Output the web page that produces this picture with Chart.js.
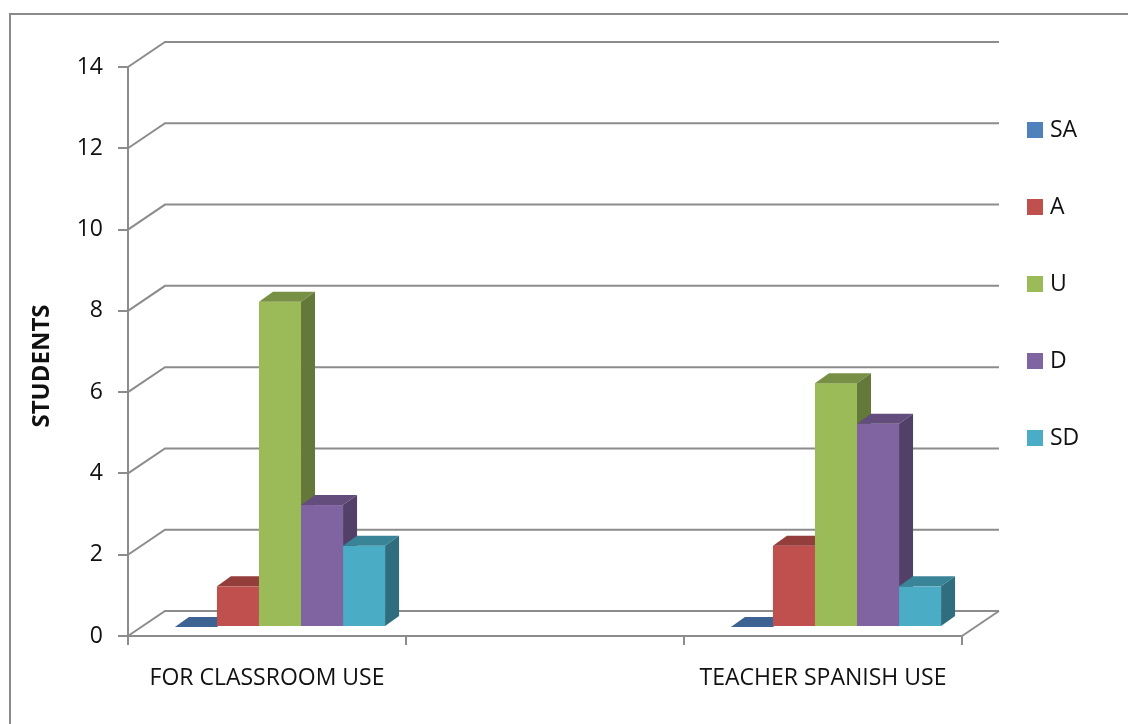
<!DOCTYPE html>
<html>
<head>
<meta charset="utf-8">
<script src="https://cdn.jsdelivr.net/npm/chart.js@4/dist/chart.umd.min.js"></script>
<style>
  html, body { margin: 0; padding: 0; background: #fff; }
  #wrap { position: relative; width: 1128px; height: 724px; overflow: hidden; }
  #frame { position: absolute; left: 9px; top: 13px; width: 1300px; height: 900px;
           border-left: 2px solid #8a8a8a; border-top: 2px solid #8a8a8a; }
  canvas { position: absolute; left: 0; top: 0; }
</style>
</head>
<body>
<div id="wrap">
  <div id="frame"></div>
  <canvas id="chart" width="1128" height="724"></canvas>
</div>
<script>
// Survey answers per category (number of students)
const categories = ['FOR CLASSROOM USE', '', 'TEACHER SPANISH USE'];
const seriesNames = ['SA', 'A', 'U', 'D', 'SD'];
const saValues = [0, null, 0];
const aValues  = [1, null, 2];
const uValues  = [8, null, 6];
const dValues  = [3, null, 5];
const sdValues = [2, null, 1];
const yTicks = [0, 2, 4, 6, 8, 10, 12, 14];
const yTitle = 'STUDENTS';

const seriesColors = ['#4F81BD', '#C0504D', '#9BBB59', '#8064A2', '#4BACC6'];
const GRID = '#8c8c8c';
const FONT = "'Open Sans', sans-serif";
const TEXT = '#111';

// oblique projection offsets
const WALL = { dx: 37, dy: -25 };      // depth of the floor / back wall
const BAR_OFF = { dx: 13, dy: -9 };    // bars sit a little behind the front edge
const BAR_DEEP = { dx: 14, dy: -10 };  // depth of each column

function shade(hex, f) {
  const n = parseInt(hex.slice(1), 16);
  const r = Math.round(((n >> 16) & 255) * f);
  const g = Math.round(((n >> 8) & 255) * f);
  const b = Math.round((n & 255) * f);
  return `rgb(${r},${g},${b})`;
}

const columns3d = {
  id: 'columns3d',
  beforeDatasetsDraw(chart) {
    const { ctx, chartArea: a, scales: { y } } = chart;
    ctx.save();
    ctx.strokeStyle = GRID;
    ctx.lineWidth = 2;
    ctx.lineJoin = 'miter';
    // back wall gridlines with their diagonal connectors to the value axis
    y.ticks.forEach(t => {
      const py = y.getPixelForValue(t.value);
      ctx.beginPath();
      ctx.moveTo(a.left, py);
      ctx.lineTo(a.left + WALL.dx, py + WALL.dy);
      ctx.lineTo(a.right + WALL.dx, py + WALL.dy);
      ctx.stroke();
    });
    // right edge of the floor
    const p0 = y.getPixelForValue(0);
    ctx.beginPath();
    ctx.moveTo(a.right, p0);
    ctx.lineTo(a.right + WALL.dx, p0 + WALL.dy);
    ctx.stroke();
    ctx.restore();
  },
  beforeDatasetDraw() {
    return false; // columns are painted as boxes below
  },
  afterDatasetsDraw(chart) {
    const { ctx } = chart;
    const sets = chart.data.datasets;
    ctx.save();
    for (let i = 0; i < chart.data.labels.length; i++) {
      for (let d = 0; d < sets.length; d++) {
        const v = sets[d].data[i];
        const el = chart.getDatasetMeta(d).data[i];
        if (v == null || !el) continue;
        const { x, y, base, width } = el.getProps(['x', 'y', 'base', 'width'], true);
        const L = x - width / 2 + BAR_OFF.dx;
        const R = x + width / 2 + BAR_OFF.dx;
        const T = Math.min(y, base) + BAR_OFF.dy;
        const B = Math.max(y, base) + BAR_OFF.dy;
        const c = sets[d].backgroundColor;
        // front
        ctx.fillStyle = c;
        ctx.fillRect(L, T, R - L, B - T);
        // top
        ctx.fillStyle = shade(c, 0.77);
        ctx.beginPath();
        ctx.moveTo(L, T);
        ctx.lineTo(R, T);
        ctx.lineTo(R + BAR_DEEP.dx, T + BAR_DEEP.dy);
        ctx.lineTo(L + BAR_DEEP.dx, T + BAR_DEEP.dy);
        ctx.closePath();
        ctx.fill();
        // right side
        if (B - T > 0.5) {
          ctx.fillStyle = shade(c, 0.64);
          ctx.beginPath();
          ctx.moveTo(R, T);
          ctx.lineTo(R + BAR_DEEP.dx, T + BAR_DEEP.dy);
          ctx.lineTo(R + BAR_DEEP.dx, B + BAR_DEEP.dy);
          ctx.lineTo(R, B);
          ctx.closePath();
          ctx.fill();
        }
      }
    }
    ctx.restore();
  },
  afterDraw(chart) {
    const { ctx } = chart;
    ctx.save();
    // value axis title
    ctx.translate(42, 366);
    ctx.rotate(-Math.PI / 2);
    ctx.font = `bold 24px ${FONT}`;
    ctx.fillStyle = TEXT;
    ctx.textAlign = 'center';
    ctx.textBaseline = 'middle';
    ctx.fillText(yTitle, 0, 0);
    ctx.restore();

    // legend
    ctx.save();
    ctx.font = `23px ${FONT}`;
    ctx.textBaseline = 'middle';
    ctx.textAlign = 'left';
    chart.data.datasets.forEach((ds, k) => {
      const cy = 130 + k * 77;
      ctx.fillStyle = ds.backgroundColor;
      ctx.fillRect(1027, cy - 8, 16, 16);
      ctx.fillStyle = TEXT;
      ctx.fillText(ds.label, 1050, cy);
    });
    ctx.restore();
  }
};

const valueLists = [saValues, aValues, uValues, dValues, sdValues];

new Chart(document.getElementById('chart'), {
  type: 'bar',
  data: {
    labels: categories,
    datasets: seriesNames.map((name, k) => ({
      label: name,
      data: valueLists[k],
      backgroundColor: seriesColors[k],
      borderWidth: 0
    }))
  },
  options: {
    responsive: false,
    animation: false,
    devicePixelRatio: 1,
    layout: { padding: { left: 0, right: 166, top: 67, bottom: 0 } },
    datasets: { bar: { categoryPercentage: 0.756, barPercentage: 1 } },
    plugins: { legend: { display: false }, tooltip: { enabled: false } },
    scales: {
      x: {
        grid: { display: true, drawOnChartArea: false, offset: true, tickLength: 9, color: GRID, lineWidth: 2 },
        border: { display: true, color: GRID, width: 2 },
        ticks: { font: { family: FONT, size: 23 }, color: TEXT, padding: 20, maxRotation: 0, autoSkip: false },
        afterFit(s) { s.height = 88; }
      },
      y: {
        min: 0,
        max: 14,
        afterBuildTicks(s) { s.ticks = yTicks.map(v => ({ value: v })); },
        grid: { display: true, drawOnChartArea: false, tickLength: 10, color: GRID, lineWidth: 2 },
        border: { display: true, color: GRID, width: 2 },
        ticks: { font: { family: FONT, size: 23 }, color: TEXT, padding: 15 },
        afterFit(s) { s.width = 128; }
      }
    }
  },
  plugins: [columns3d]
});
</script>
</body>
</html>
